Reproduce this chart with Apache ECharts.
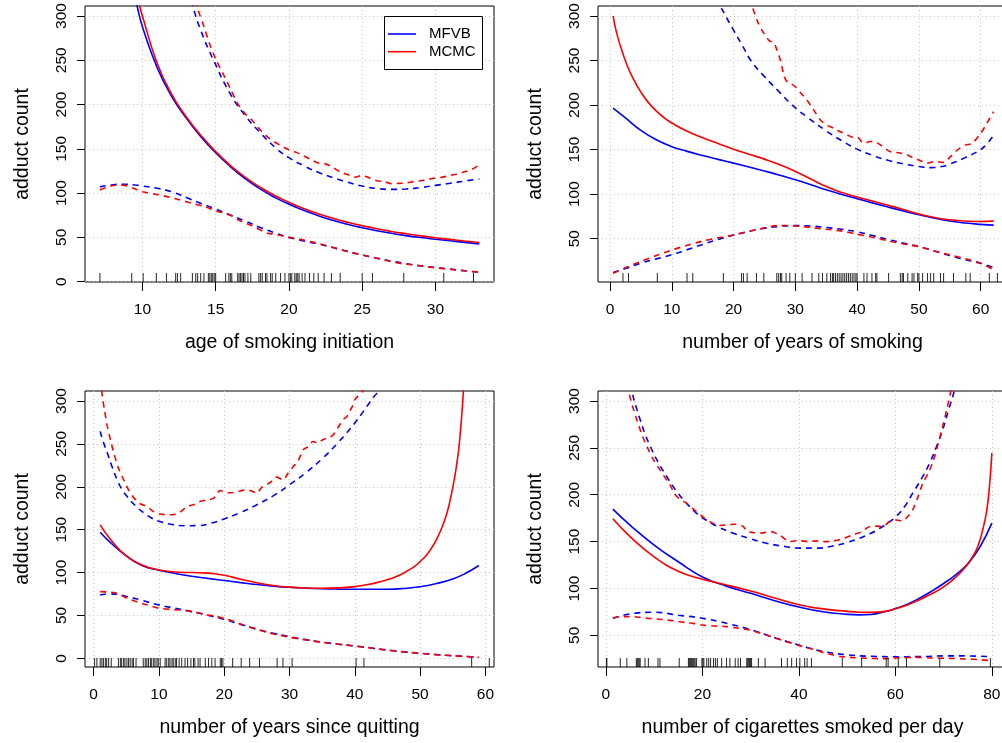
<!DOCTYPE html>
<html>
<head>
<meta charset="utf-8">
<script src="https://cdn.jsdelivr.net/npm/echarts@6/dist/echarts.min.js"></script>
<style>
  html, body { margin: 0; padding: 0; background: #ffffff; }
  #chart { width: 1002px; height: 743px; }
</style>
</head>
<body>
<div id="chart"></div>
<script>
// ---------- tick labels ----------
const ageTicks = [10, 15, 20, 25, 30];
const yearsTicks = [0, 10, 20, 30, 40, 50, 60];
const quitTicks = [0, 10, 20, 30, 40, 50, 60];
const cigTicks = [0, 20, 40, 60, 80];
const countTicksFrom0 = [0, 50, 100, 150, 200, 250, 300];
const countTicksFrom50 = [50, 100, 150, 200, 250, 300];

// ---------- age of smoking initiation ----------
const ageMfvbMean = [[9.2,345],[9.64,311],[10,288],[11,242],[12,209],[13,184.5],[14,163.5],[15,145.5],[16,130],[17,116.5],[18,105],[19,95.5],[20,87.5],[21,80.5],[22,74.5],[23,69.3],[24,64.8],[25,60.9],[26,57.5],[27,54.6],[28,52],[29,49.8],[30,47.9],[31,46.1],[32,44.3],[33,42.6]];
const ageMcmcMean = [[9.4,345],[9.82,311],[10,300],[11,247],[12,211.5],[13,186],[14,165],[15,147],[16,131.3],[17,118],[18,107],[19,97.5],[20,89.6],[21,82.7],[22,76.8],[23,71.6],[24,67.1],[25,63.2],[26,59.7],[27,56.7],[28,54.1],[29,51.7],[30,49.6],[31,47.7],[32,45.9],[33,44.2]];
const ageMfvbUpper = [[13.2,330],[13.45,311],[14,283],[14.86,250],[16,212],[17,188],[18,169],[19.17,150],[20,140],[21,131],[22,123.5],[23,117.5],[24,112.3],[25,108],[26,105.2],[27,104.2],[28,104.6],[29,106.3],[30,108.7],[31,111.1],[32,113.6],[33,116]];
const ageMcmcUpper = [[13.5,330],[13.72,311],[14.2,288],[14.6,268],[15.04,250],[15.5,235],[16,218],[16.5,201],[17,190],[17.5,182],[18,172],[18.5,164],[19,158],[19.5,153],[20,149],[20.5,146],[21,142],[21.5,138],[22,134],[22.5,133],[23,129],[23.5,124],[24,121],[24.5,118],[25,120],[25.5,117],[26,114],[26.5,113],[27,110.5],[27.5,111],[28,111.5],[28.5,113],[29,114],[29.5,115.5],[30,117],[30.5,118],[31,120],[31.5,121.5],[32,124],[32.5,127],[33,132]];
const ageMfvbLower = [[7.1,107],[8,109.5],[8.7,110],[9.5,109.2],[10,108],[11,105.5],[12,101.5],[13,95],[14,88.3],[15,82],[16,75.3],[17,68.5],[18,61.5],[19,55.2],[20,50],[21,46],[22,42.6],[23,38.5],[24,34.2],[25,30.2],[26,26.5],[27,23.2],[28,20.2],[29,17.8],[30,16],[31,14.1],[32,12.3],[33,10.8]];
const ageMcmcLower = [[7.1,103.5],[7.5,106],[8,108.5],[8.7,109],[9.3,106],[10,101.6],[10.8,99],[11.7,96],[12.5,92.5],[13.5,88],[14.3,84.5],[15,80],[16,75],[16.7,68.5],[17.5,63],[18.5,55],[19.2,53],[20,50],[20.7,48],[21.9,43.5],[23,38.5],[24,34],[25,30],[26,26.5],[27,22.5],[27.6,20.5],[28.5,19],[29.2,17.5],[30,15.5],[31,14],[32,12.3],[33,10.5]];
const ageRug = [7.1,9.27,10.05,10.95,11.64,12.27,12.39,12.61,13.41,13.64,13.77,13.98,14.2,14.5,14.6,14.7,14.8,14.9,15.0,15.68,15.9,16.0,16.1,16.5,16.6,16.7,16.8,16.9,17.0,17.2,17.4,17.95,18.07,18.18,18.4,18.5,18.75,18.86,19.1,19.43,19.73,20.0,20.1,20.2,20.4,20.5,20.6,20.7,20.9,21.1,21.4,21.7,22.0,22.4,22.9,23.5,25.0,25.7,27.84,30.57,32.6];

// ---------- number of years of smoking ----------
const yearsMfvbMean = [[0.5,196.5],[2.5,185.5],[5,171.5],[7.5,161],[10,153.3],[12.5,148],[15,143.3],[17.5,139],[20,134.8],[22.5,130.5],[25,126],[27.5,121.3],[30,116.2],[32.5,110.6],[35,104.9],[37.5,99.6],[40,94.9],[42.5,90.2],[45,85.5],[47.5,81],[50,76.8],[52.5,73],[55,69.8],[57.5,67.5],[60,66],[62.1,65.2]];
const yearsMcmcMean = [[0.5,300],[1,283],[1.7,266],[2.75,245],[3.8,229],[5,214.5],[6.2,203],[7.6,192.6],[9,184.5],[10,179.8],[12.5,170.5],[15,163.3],[17.5,156.8],[20,150.5],[22.5,144.8],[25,139.3],[27.5,133],[30,125.5],[32.5,117],[35,108.5],[37.5,101.8],[40,96.8],[42.5,92.2],[45,87.5],[47.5,82.7],[50,77.8],[52.5,73.7],[55,71.2],[57.5,69.9],[60,69.2],[62.1,70]];
const yearsMfvbUpper = [[17.2,320],[17.86,311],[20,284],[21.5,266],[22.8,250],[25,232],[27.5,214],[29.5,200],[32,186],[35,171],[37.5,160],[40,150.5],[42.5,143.5],[45,138],[47.5,134],[50,131],[51.9,129.8],[53.5,130.7],[55.1,134],[57.5,141],[60,150],[61,156.5],[62.1,166]];
const yearsMcmcUpper = [[22.6,320],[23.0,311],[24,292],[24.9,280.5],[25.8,272],[26.5,270],[27,262],[27.6,250],[28.2,232],[28.7,226],[29.3,224],[30,220.5],[30.8,214],[31.9,205.5],[33,194],[34.1,183],[35,178],[36.2,174],[37.3,170],[38.4,166.5],[39.2,164],[40.1,163.5],[41.1,157],[42.1,159],[43,158.5],[43.8,155],[44.6,151],[45.4,147.5],[46.7,146.5],[48.1,144],[49,141],[50,138.3],[51.3,134.6],[52.4,136.4],[54,135.7],[55.1,142],[56.2,149.5],[57.5,155],[58.6,157],[60,168.3],[61,179.5],[62.1,192.6]];
const yearsMfvbLower = [[0.5,12],[2.5,16.5],[5,22.5],[7.5,27.3],[10,32],[12.5,37.7],[15,43.5],[17.5,49],[20,54],[22.5,58.3],[25,61.6],[27.5,63.8],[30,64.6],[32.5,64.1],[35,62.5],[37.5,60.5],[40,57.8],[42.5,53.5],[45,49],[47.5,45],[50,41],[52.5,36.2],[55,31],[57.5,26.5],[60,22.3],[62.1,17.4]];
const yearsMcmcLower = [[0.5,11.1],[2.5,17.5],[5,24.5],[7.5,31],[10,37.3],[12.5,42.5],[15,47.3],[17.5,51],[20,54.1],[22.5,58],[25,62.3],[27.5,64.8],[30,64.4],[32.5,62.5],[35,60.6],[37.5,58.5],[40,55],[42.5,51.5],[45,47.6],[47.5,44],[50,41],[52.5,36.2],[55,31.8],[57.5,27.5],[60,22.3],[62.1,14.8]];
const yearsRug = [2.1,3.0,7.66,12.47,13.4,18.35,21.3,21.6,22.2,23.7,24.9,27.0,27.3,27.6,27.8,28.5,29.1,30.0,31.1,32.7,33.8,34.4,35.1,35.7,36.0,36.2,36.5,36.8,37.1,37.4,37.7,38.0,38.3,38.6,38.9,39.2,39.5,39.8,40.0,41.1,41.6,42.4,43.0,43.2,45.1,47.0,47.3,47.5,48.2,48.9,49.2,49.8,50.0,50.6,51.4,51.9,52.4,53.5,54.0,55.6,57.6,58.3,61.4,62.7];

// ---------- number of years since quitting ----------
const quitMfvbMean = [[1,147],[2.5,135.5],[5,119.5],[7.5,108],[10,102.8],[12.5,99],[15,95.8],[17.5,93.2],[20,90.8],[22.5,88.3],[25,86],[27.5,84.2],[30,82.8],[32.5,81.8],[35,81.1],[37.5,80.7],[40,80.5],[42.5,80.5],[45,80.6],[47.5,81.5],[50,83.5],[52.5,87.2],[55,92.5],[57,99.2],[59,108.2]];
const quitMcmcMean = [[1,155.6],[2.5,139.5],[5,119.5],[7.5,108.5],[10,103.2],[12.5,100.6],[15,100],[17.5,99.4],[20,96.8],[22.5,92.3],[25,88.2],[27.5,85],[30,83],[32.5,82],[35,81.7],[37.5,82.2],[40,83.6],[42.5,86.8],[45,91.5],[47,97.5],[48.3,103.1],[49.2,107.5],[50,112.8],[51,120.5],[51.9,130.4],[52.7,141.5],[53.4,153.7],[54,166.5],[54.5,181],[55,199],[55.5,220.5],[55.9,243],[56.2,266.5],[56.5,296],[56.7,320]];
const quitMfvbUpper = [[1,264.6],[1.5,252],[2.1,239.3],[2.8,224],[3.6,208.2],[4.3,197.5],[5.1,189],[6.4,178],[7.7,169.5],[8.8,164],[10,159.8],[12,156],[14,154.6],[16,154.8],[18,157.6],[20,162.6],[22.5,170],[25,179],[27.5,189.5],[30,202.3],[32.5,216.5],[35.1,233.5],[37.5,252],[40,274.3],[41.1,285.6],[42.2,297.5],[43,305.8],[43.7,311.7],[44.5,322]];
const quitMcmcUpper = [[1.1,325],[1.3,307.4],[1.7,288],[2.1,270.4],[2.6,254],[3.1,239.3],[3.8,222],[4.6,208.2],[5.4,195.5],[6.2,186.8],[7.2,180],[8.2,177],[9,172],[10,168.5],[11,167.5],[12.1,167.5],[12.8,168.5],[13.5,172],[14.3,177],[15.3,179],[16.3,182.9],[17.3,184.5],[18.4,186.8],[19.4,195.7],[20.4,193],[21.4,193.4],[22.4,195],[23.4,196.5],[24.2,195],[25,192.6],[25.7,199],[26.5,202.3],[27.2,206],[28,211.3],[29,208.2],[29.8,216],[30.6,223.7],[31.3,230],[32.1,243.2],[32.9,247],[33.6,252.9],[34.3,251],[35.1,254.9],[36,257],[36.7,260.7],[37.5,270],[38.2,278.2],[38.8,282],[39.2,287.9],[39.7,295],[40,301.6],[40.5,306],[41.2,311.7],[41.6,318]];
const quitMfvbLower = [[1,73.9],[2.5,75.2],[5,72.2],[7.5,67.3],[10,62.3],[12.5,58.3],[15,54.5],[17.5,50.2],[20,45.5],[22.5,39.6],[25,33.9],[27.5,29.3],[30,25.3],[32.5,21.8],[35,18.8],[37.5,16.5],[40,14.4],[42.5,12],[45,9.6],[47.5,7.5],[50,5.8],[52.5,4.3],[55,3.1],[57,2.1],[59,1.2]];
const quitMcmcLower = [[1,77.8],[2,77.5],[3.1,76.7],[4,74.5],[5.1,70],[6.4,66.5],[7.7,63.4],[9,60.5],[10,58.4],[12,56.8],[14.3,55.6],[16,53],[17.3,50.6],[18.5,49.5],[20,46.5],[21.5,43],[22.5,40],[25,33.9],[26,31.5],[27,29.2],[28.5,27],[30,24.5],[32.5,21.5],[35,18.8],[37.5,16.5],[40,14.4],[42.5,12],[45,9.6],[47.5,7.5],[50,5.8],[52.5,4.3],[55,3.1],[57,2.1],[59,1.2]];
const quitRug = [0.15,0.5,1.0,1.27,1.5,1.8,2.0,2.3,2.7,3.8,4.1,4.3,4.6,4.8,5.1,5.35,5.6,5.9,6.1,6.5,7.6,7.9,8.15,8.4,8.7,8.9,9.2,9.4,9.7,9.9,10.2,10.95,11.2,11.5,11.7,12.0,12.2,12.5,12.7,13.1,13.5,14.0,14.4,14.9,15.3,15.5,16.0,16.3,17.1,17.6,18.1,18.6,19.4,19.6,19.8,21.3,22.6,23.9,25.4,28.1,29.0,30.4,40.2,41.4,57.9,60.6];

// ---------- number of cigarettes smoked per day ----------
const cigMfvbMean = [[1.45,184.6],[5,167.5],[10,146.3],[15,128.5],[20,112.3],[25,102.5],[30,94.8],[35,87],[40,80.2],[45,75.2],[50,72.4],[52.5,71.8],[55,72.3],[57.5,74.8],[60,78.5],[62.5,83.3],[65,89.6],[67.5,97],[70,105.3],[72.5,114.6],[75,126.3],[77.5,144],[80,169.7]];
const cigMcmcMean = [[1.45,174.3],[5,155.4],[10,133.7],[15,118.4],[20,109.8],[25,103.8],[30,97.2],[35,89.8],[40,82.7],[45,78.2],[50,75.6],[52.5,74.7],[55,74.5],[57.5,75.3],[60,78.3],[62.5,82.4],[65,88],[67.5,94.3],[70,101.6],[72.5,112],[74.8,124.5],[76,134],[77.1,145],[78.1,162.5],[78.9,182],[79.5,208.8],[80,244.4]];
const cigMfvbUpper = [[5.0,330],[5.4,310.7],[6.2,295],[7.1,280],[8.1,265],[9.2,251.6],[10.8,235],[12.6,219.5],[14.6,204],[16.7,191],[18.3,182.5],[20,175.5],[23.2,166],[26.4,159],[30,153],[33.3,148.3],[36.8,145],[40.2,143],[43.6,143],[47.1,145.4],[50,149],[52.6,153.6],[54.7,158.3],[56.7,164],[58.5,170],[60.2,177],[62,188],[63.6,201.7],[65.4,217],[67.1,233.8],[68.5,251],[69.8,269.4],[71,290],[72.2,310.7],[72.8,325]];
const cigMcmcUpper = [[4.3,330],[4.7,310.7],[5.5,295],[6.4,280],[7.4,265],[8.5,251.6],[9.8,238],[11.2,226.6],[12.3,218],[13.3,210.6],[14,203],[14.7,198.1],[15.7,194],[16.7,191],[18.3,184],[20,176.8],[21.8,170.5],[23.6,167.2],[25.4,168],[27.1,168.6],[28.5,166],[29.2,161],[30.5,159.7],[32.2,159],[34,160.8],[36,157],[38.1,150.1],[40.2,151.1],[41.9,150],[43.6,150.8],[45.3,150],[47.1,150.8],[49.1,153],[51.2,157.2],[53,160.5],[54.7,166.1],[56,166.5],[57.4,166.1],[58.8,171.4],[60.2,173],[61.5,172.2],[62.6,177],[63.6,183.9],[64.7,198],[65.7,212.4],[66.7,222],[67.7,233.8],[68.8,253],[69.8,272.9],[70.7,292],[71.5,310.7],[72.0,325]];
const cigMfvbLower = [[1.45,68.2],[5,72.8],[10,74.6],[15,71.5],[20,68.2],[25,62.8],[30,56],[35,47.5],[40,39.6],[45,32.8],[50,29.2],[55,27.6],[60,27.2],[65,27.3],[70,28.1],[75,28],[80,27.2]];
const cigMcmcLower = [[1.45,68.2],[2.9,70],[4.3,70],[6.4,69.5],[8.5,68.2],[10.5,67.5],[12.6,66.4],[14.7,65],[16.7,63.5],[18.3,62.5],[20,61],[22.5,60],[25,59.3],[27.5,57.5],[29.8,55.7],[31.5,53],[33.3,50.4],[35.7,46],[38.1,42.2],[40.8,38],[43.6,34.3],[45.3,31],[47.1,29],[48.8,27.3],[50.5,26.5],[54,25.5],[57.4,25.1],[60.8,26],[64.3,26.5],[67.7,25.8],[71.2,25.4],[74.6,24.8],[77.5,24],[80,22.9]];
const cigRug = [0.1,0.2,2.97,4.34,6.3,6.5,6.7,6.9,7.1,8.1,8.8,10.8,11.2,15.2,17.1,17.3,17.5,17.7,17.9,18.1,18.3,18.5,18.8,19.9,20.1,20.3,20.9,21.3,21.7,22.3,22.7,23.1,24.0,25.0,25.7,26.8,27.4,27.9,29.2,29.4,29.6,29.8,30.0,30.2,31.6,33.0,36.4,37.6,38.5,39.5,40.2,41.2,41.7,42.6,49.0,53.0,58.1,58.5,60.6,62.3,69.2,79.7];

// ---------- styling ----------
const FONT = '"Liberation Sans", Arial, Helvetica, sans-serif';
const BLUE = '#0000ff';
const RED = '#ff0000';
const GRID_LINE = '#c4c4c4';

// panel layout: plot region and axis ranges for each of the four smooth-effect plots
const panels = [
  { rect: { left: 85, top: 6, width: 409, height: 276 },
    xRange: [6.08, 34.0], yRange: [-0.4, 311.3],
    xTicks: ageTicks, yTicks: countTicksFrom0, xName: 'age of smoking initiation',
    curves: [ageMfvbMean, ageMfvbUpper, ageMfvbLower, ageMcmcMean, ageMcmcUpper, ageMcmcLower], rug: ageRug },
  { rect: { left: 598, top: 6, width: 409, height: 276 },
    xRange: [-1.94, 64.26], yRange: [1.35, 311.2],
    xTicks: yearsTicks, yTicks: countTicksFrom50, xName: 'number of years of smoking',
    curves: [yearsMfvbMean, yearsMfvbUpper, yearsMfvbLower, yearsMcmcMean, yearsMcmcUpper, yearsMcmcLower], rug: yearsRug },
  { rect: { left: 85, top: 391, width: 409, height: 276 },
    xRange: [-1.32, 61.32], yRange: [-10.1, 311.7],
    xTicks: quitTicks, yTicks: countTicksFrom0, xName: 'number of years since quitting',
    curves: [quitMfvbMean, quitMfvbUpper, quitMfvbLower, quitMcmcMean, quitMcmcUpper, quitMcmcLower], rug: quitRug },
  { rect: { left: 598, top: 391, width: 409, height: 276 },
    xRange: [-1.64, 83.14], yRange: [16.2, 310.7],
    xTicks: cigTicks, yTicks: countTicksFrom50, xName: 'number of cigarettes smoked per day',
    curves: [cigMfvbMean, cigMfvbUpper, cigMfvbLower, cigMcmcMean, cigMcmcUpper, cigMcmcLower], rug: cigRug }
];

// order of the six curves in each panel: mean, upper, lower for MFVB then MCMC
const curveStyles = [
  { name: 'MFVB', color: BLUE, dashed: false, smooth: 0.5 },
  { name: 'MFVB', color: BLUE, dashed: true, smooth: 0.5 },
  { name: 'MFVB', color: BLUE, dashed: true, smooth: 0.5 },
  { name: 'MCMC', color: RED, dashed: false, smooth: 0.5 },
  { name: 'MCMC', color: RED, dashed: true, smooth: 0.3 },
  { name: 'MCMC', color: RED, dashed: true, smooth: 0.3 }
];

const grids = [], xAxes = [], yAxes = [], series = [];

panels.forEach((p, i) => {
  grids.push(Object.assign({
    show: true, borderColor: '#000', borderWidth: 1, backgroundColor: 'transparent',
    containLabel: false, outerBoundsMode: 'none'
  }, p.rect));

  xAxes.push({
    gridIndex: i, type: 'value', min: p.xRange[0], max: p.xRange[1],
    axisLine: { show: false, onZero: false },
    axisTick: { show: true, inside: false, length: 9, customValues: p.xTicks,
                lineStyle: { color: '#000', width: 1 } },
    axisLabel: { show: true, customValues: p.xTicks, margin: 20, hideOverlap: false,
                 fontSize: 15.5, color: '#000', fontFamily: FONT },
    splitLine: { show: true, lineStyle: { color: GRID_LINE, type: [1, 3], width: 1 } },
    name: p.xName, nameLocation: 'middle', nameGap: 50.5,
    nameTextStyle: { fontSize: 19.5, color: '#000', fontFamily: FONT }
  });

  yAxes.push({
    gridIndex: i, type: 'value', min: p.yRange[0], max: p.yRange[1],
    axisLine: { show: false, onZero: false },
    axisTick: { show: true, inside: false, length: 8, customValues: p.yTicks,
                lineStyle: { color: '#000', width: 1 } },
    axisLabel: { show: true, customValues: p.yTicks, rotate: 90, margin: 15, hideOverlap: false,
                 fontSize: 15.5, color: '#000', fontFamily: FONT },
    splitLine: { show: true, lineStyle: { color: GRID_LINE, type: [1, 3], width: 1 } },
    name: 'adduct count', nameLocation: 'middle', nameGap: 52,
    nameTextStyle: { fontSize: 19.5, color: '#000', fontFamily: FONT }
  });

  // rug of observed covariate values along the bottom of the plot region
  series.push({
    type: 'custom', xAxisIndex: i, yAxisIndex: i, silent: true, animation: false, clip: true,
    data: p.rug.map(v => [v, p.yRange[0]]),
    encode: { x: 0, y: 1 },
    z: 4,
    renderItem: function (params, api) {
      const pt = api.coord([api.value(0), api.value(1)]);
      const cs = params.coordSys;
      const yb = cs.y + cs.height;
      return {
        type: 'line',
        shape: { x1: pt[0], y1: yb, x2: pt[0], y2: yb - 9 },
        style: { stroke: '#000', lineWidth: 1, opacity: 0.85 }
      };
    }
  });

  p.curves.forEach((data, k) => {
    const st = curveStyles[k];
    series.push({
      type: 'line', name: st.name, xAxisIndex: i, yAxisIndex: i, data: data,
      symbol: 'none', showSymbol: false, silent: true, animation: false, clip: true,
      smooth: st.smooth,
      lineStyle: { color: st.color, width: 1.6, type: st.dashed ? [6, 5] : 'solid' },
      itemStyle: { color: st.color },
      z: 3
    });
  });
});

// legend box in the first panel
const legendGraphic = [
  { type: 'rect', z: 100, shape: { x: 384.5, y: 16.5, width: 98, height: 53 },
    style: { fill: '#ffffff', stroke: '#000', lineWidth: 1 } },
  { type: 'line', z: 101, shape: { x1: 388, y1: 34, x2: 416, y2: 34 },
    style: { stroke: BLUE, lineWidth: 1.6 } },
  { type: 'line', z: 101, shape: { x1: 388, y1: 51.7, x2: 416, y2: 51.7 },
    style: { stroke: RED, lineWidth: 1.6 } },
  { type: 'text', z: 101, x: 429, y: 34,
    style: { text: 'MFVB', fill: '#000', font: '15px ' + FONT,
             textAlign: 'left', textVerticalAlign: 'middle', align: 'left', verticalAlign: 'middle' } },
  { type: 'text', z: 101, x: 429, y: 51.7,
    style: { text: 'MCMC', fill: '#000', font: '15px ' + FONT,
             textAlign: 'left', textVerticalAlign: 'middle', align: 'left', verticalAlign: 'middle' } }
];

const chart = echarts.init(document.getElementById('chart'), null, { renderer: 'canvas' });
chart.setOption({
  backgroundColor: '#ffffff',
  animation: false,
  textStyle: { fontFamily: FONT },
  grid: grids,
  xAxis: xAxes,
  yAxis: yAxes,
  series: series,
  graphic: legendGraphic
});
</script>
</body>
</html>
